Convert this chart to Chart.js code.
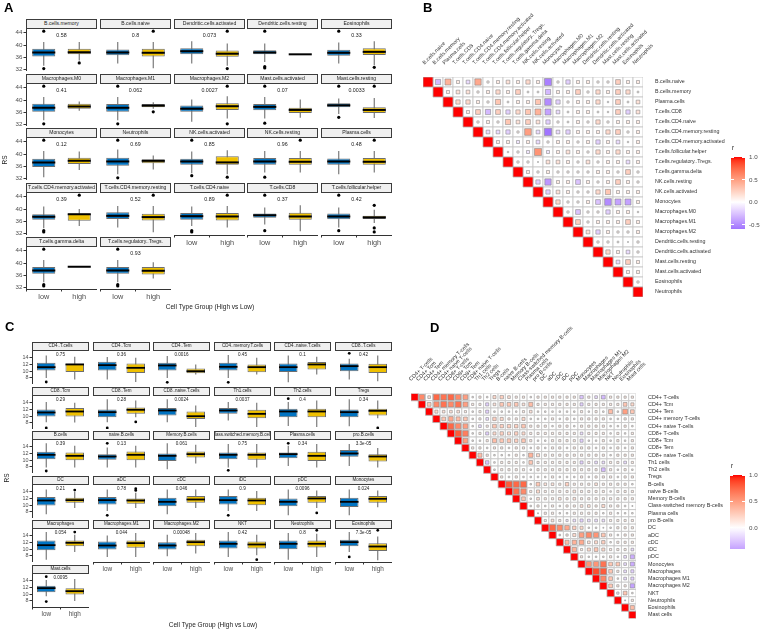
<!DOCTYPE html>
<html>
<head>
<meta charset="utf-8">
<title>Risk score by immune cell group</title>
<script src="https://cdn.jsdelivr.net/npm/chart.js@4.4.1/dist/chart.umd.min.js"></script>
<style>
  body { margin: 0; background: #fff; }
  #fig { position: relative; width: 763px; height: 631px; overflow: hidden; font-family: "Liberation Sans", Arial, sans-serif; }
  #fig canvas { position: absolute; }
  .t { position: absolute; white-space: nowrap; line-height: 1; color: #1a1a1a; }
  .tag { font-weight: bold; color: #000; }
  .mid { transform: translate(-50%, -50%); }
  .midy { transform: translateY(-50%); color: #4d4d4d; }
  .rot { transform: translate(-50%, -50%) rotate(-90deg); }
  .strip { position: absolute; box-sizing: border-box; background: #f0f0f0; border: 0.8px solid #3c3c3c;
           display: flex; justify-content: center; align-items: center; overflow: hidden; white-space: nowrap; color: #1a1a1a; line-height: 1; }
  .cbar { position: absolute; }
</style>
</head>
<body>
<div id="fig"></div>
<script>
const groups = ["low", "high"];

// ---- panel A : CIBERSORT cell types ----
const aNames = ["B.cells.memory", "B.cells.naive", "Dendritic.cells.activated", "Dendritic.cells.resting", "Eosinophils",
  "Macrophages.M0", "Macrophages.M1", "Macrophages.M2", "Mast.cells.activated", "Mast.cells.resting",
  "Monocytes", "Neutrophils", "NK.cells.activated", "NK.cells.resting", "Plasma.cells",
  "T.cells.CD4.memory.activated", "T.cells.CD4.memory.resting", "T.cells.CD4.naive", "T.cells.CD8", "T.cells.follicular.helper",
  "T.cells.gamma.delta", "T.cells.regulatory..Tregs."];
const aP = ["0.58", "0.8", "0.073", "", "0.33", "0.41", "0.062", "0.0027", "0.07", "0.0033",
  "0.12", "0.69", "0.85", "0.96", "0.48", "0.39", "0.52", "0.89", "0.37", "0.42", "", "0.93"];
// [lower whisker, q1, median, q3, upper whisker]
const aLow = [
  [33.3, 36.3, 37.6, 38.8, 41.0], [34.0, 36.7, 37.6, 38.6, 41.0], [34.0, 37.0, 38.0, 39.0, 41.2], [34.5, 37.0, 37.6, 38.3, 40.5], [34.0, 36.5, 37.5, 38.5, 40.8],
  [33.5, 36.2, 37.5, 38.8, 41.0], [33.5, 36.2, 37.5, 38.7, 41.0], [33.0, 36.2, 37.2, 38.2, 40.2], [34.0, 36.7, 37.8, 38.7, 41.0], [35.5, 37.7, 38.3, 39.0, 40.5],
  [32.5, 35.8, 37.3, 38.5, 41.0], [33.5, 36.2, 37.6, 38.8, 41.5], [33.8, 36.5, 37.6, 38.5, 40.8], [34.0, 36.5, 37.6, 38.7, 41.0], [33.5, 36.5, 37.6, 38.6, 41.0],
  [33.8, 36.5, 37.5, 38.3, 40.8], [34.0, 36.8, 37.8, 39.0, 41.0], [34.5, 36.5, 37.7, 38.7, 40.8], [35.0, 37.2, 38.0, 38.6, 40.5], [34.0, 36.7, 37.6, 38.6, 40.5],
  [33.8, 36.5, 37.6, 38.7, 41.0], [33.8, 36.5, 37.6, 38.7, 41.0]];
const aHigh = [
  [35.0, 37.0, 37.7, 38.8, 41.0], [32.5, 36.3, 37.5, 38.8, 41.0], [33.3, 36.2, 37.2, 38.2, 40.5], [37.0, 37.0, 37.0, 37.0, 37.0], [33.5, 36.8, 37.8, 39.0, 41.2],
  [36.5, 37.2, 37.9, 38.8, 39.5], [37.2, 37.7, 38.2, 38.7, 39.3], [34.0, 36.8, 38.0, 39.0, 41.2], [34.3, 35.8, 36.8, 37.5, 40.2], [34.2, 35.8, 36.8, 37.7, 40.7],
  [34.8, 36.8, 37.8, 38.8, 40.8], [35.0, 37.0, 37.8, 38.3, 39.5], [33.5, 36.5, 37.3, 39.3, 41.2], [34.0, 36.5, 37.5, 38.7, 41.0], [34.0, 36.5, 37.5, 38.7, 41.0],
  [34.5, 36.2, 38.3, 38.6, 40.0], [32.5, 36.3, 37.4, 38.5, 41.0], [34.0, 36.3, 37.6, 38.7, 41.0], [32.8, 36.5, 37.6, 38.8, 41.2], [35.5, 36.8, 37.3, 37.8, 39.8],
  [38.8, 38.8, 38.8, 38.8, 38.8], [35.0, 36.3, 37.5, 38.7, 40.3]];
const aLowOut = [[44.5, 32.4], [], [], [44.5, 33.0, 32.6], [44.5], [44.5, 32.3], [44.5, 32.3], [], [44.5, 32.5], [44.5, 34.4],
  [44.5], [44.5, 32.3], [44.5, 33.0], [32.5], [], [33.0, 32.6], [], [33.0, 32.6], [44.5, 33.0], [44.5, 33.0], [44.5, 33.0, 32.6], [44.5, 33.0, 32.6]];
const aHighOut = [[34.2], [44.5], [44.5, 32.4], [], [32.8], [], [36.2], [44.5, 32.3], [], [44.5],
  [], [], [32.5], [44.5], [44.5], [44.5], [44.5], [44.5], [], [41.2, 33.9, 32.6], [], []];
const aTicks = [32, 36, 40, 44];

// ---- panel C : xCell cell types ----
const cNames = ["CD4..T.cells", "CD4..Tcm", "CD4..Tem", "CD4..memory.T.cells", "CD4..naive.T.cells", "CD8..T.cells",
  "CD8..Tcm", "CD8..Tem", "CD8..naive.T.cells", "Th1.cells", "Th2.cells", "Tregs",
  "B.cells", "naive.B.cells", "Memory.B.cells", "Class.switched.memory.B.cells", "Plasma.cells", "pro.B.cells",
  "DC", "aDC", "cDC", "iDC", "pDC", "Monocytes",
  "Macrophages", "Macrophages.M1", "Macrophages.M2", "NKT", "Neutrophils", "Eosinophils", "Mast.cells"];
const cP = ["0.75", "0.36", "0.0016", "0.45", "0.1", "0.42", "0.29", "0.28", "0.0024", "0.0037", "0.4", "0.34",
  "0.39", "0.13", "0.061", "0.75", "0.34", "3.3e-05", "0.21", "0.78", "0.046", "0.9", "0.0096", "0.024",
  "0.054", "0.044", "0.00048", "0.42", "0.8", "7.3e-05", "0.0095"];
const cLow = [
  [8.0, 10.2, 11.2, 12.5, 14.7], [7.5, 10.2, 11.8, 12.8, 14.2], [8.0, 10.2, 11.7, 12.5, 14.5], [8.0, 10.2, 11.3, 12.5, 14.8], [6.7, 9.8, 11.2, 12.3, 14.7], [7.5, 10.0, 11.5, 12.3, 13.7],
  [8.2, 9.9, 11.1, 12.0, 14.2], [8.2, 9.7, 11.2, 12.0, 15.0], [8.2, 10.2, 11.7, 12.4, 15.0], [8.7, 10.7, 11.7, 12.4, 14.2], [7.1, 9.7, 11.4, 12.2, 14.2], [7.0, 9.7, 11.2, 12.0, 15.0],
  [7.8, 10.3, 11.6, 12.5, 15.0], [7.8, 10.1, 11.1, 11.8, 13.8], [7.3, 9.8, 11.3, 12.0, 15.0], [7.8, 10.3, 11.6, 12.3, 14.8], [8.3, 10.6, 11.8, 12.3, 14.3], [8.3, 11.0, 12.0, 13.0, 14.8],
  [7.3, 9.9, 11.4, 12.4, 14.7], [8.3, 10.2, 11.5, 12.4, 14.7], [7.3, 9.7, 11.0, 12.2, 14.7], [8.3, 10.2, 11.5, 12.7, 14.7], [7.0, 9.7, 11.0, 12.0, 14.7], [7.0, 9.5, 11.0, 12.2, 14.7],
  [6.9, 9.7, 11.2, 12.6, 15.1], [7.7, 9.9, 11.1, 12.3, 14.1], [7.9, 9.9, 11.1, 12.1, 14.3], [7.7, 10.2, 11.6, 12.6, 15.1], [6.9, 10.0, 11.6, 12.6, 14.8], [9.2, 10.9, 12.1, 12.8, 15.1],
  [9.4, 10.6, 11.8, 12.5, 14.2]];
const cHigh = [
  [7.5, 9.8, 12.0, 12.3, 14.3], [6.8, 9.5, 11.0, 12.3, 14.0], [9.0, 9.4, 10.0, 10.8, 12.0], [9.0, 9.7, 11.2, 12.0, 14.0], [9.0, 10.5, 12.0, 12.7, 14.3], [7.0, 9.5, 11.2, 12.2, 14.7],
  [8.1, 9.9, 11.4, 12.4, 14.0], [9.7, 10.7, 11.9, 12.6, 14.7], [6.8, 9.2, 10.0, 11.4, 13.2], [6.8, 9.4, 10.7, 11.9, 14.0], [6.8, 9.7, 11.4, 12.2, 14.7], [9.4, 10.2, 11.6, 12.2, 14.7],
  [7.8, 10.0, 11.3, 12.3, 14.3], [7.8, 10.0, 11.6, 12.6, 14.3], [9.0, 10.8, 11.8, 12.6, 14.6], [7.8, 10.1, 11.6, 12.3, 14.8], [7.8, 9.8, 11.3, 12.5, 14.8], [7.8, 9.6, 11.1, 11.8, 13.6],
  [9.2, 10.7, 11.5, 12.2, 13.9], [9.2, 10.4, 11.4, 12.0, 13.7], [9.2, 10.7, 11.7, 12.7, 14.7], [8.3, 10.0, 11.4, 12.2, 14.2], [9.2, 10.7, 12.0, 12.7, 14.4], [9.4, 10.7, 11.9, 12.7, 14.4],
  [9.2, 10.9, 11.9, 12.6, 14.3], [7.7, 10.4, 11.8, 12.6, 14.8], [8.7, 10.9, 12.1, 12.8, 14.8], [8.2, 10.2, 11.4, 12.3, 14.3], [7.7, 10.5, 11.6, 12.6, 14.6], [6.7, 9.5, 10.8, 11.8, 13.8],
  [8.0, 9.9, 10.9, 11.8, 14.5]];
const cLowOut = [[6.8], [], [6.7], [6.7], [], [15.3], [6.5], [6.5], [], [], [15.2], [],
  [6.8], [15.0], [], [7.0], [15.0], [], [], [7.0], [], [7.0], [], [],
  [], [], [], [], [], [7.7], [15.2, 7.8]];
const cHighOut = [[], [], [], [], [], [], [], [8.3], [], [], [], [6.5],
  [], [], [], [], [], [], [14.5], [14.9, 14.4], [], [], [7.7], [],
  [15.1], [], [], [6.9], [15.6], [15.6], []];
const cTicks = [8, 10, 12, 14];

// ---- panel B : correlation among CIBERSORT cell types (upper triangle, row i holds columns i+1..n) ----
const bNames = ["B.cells.naive", "B.cells.memory", "Plasma.cells", "T.cells.CD8", "T.cells.CD4.naive", "T.cells.CD4.memory.resting",
  "T.cells.CD4.memory.activated", "T.cells.follicular.helper", "T.cells.regulatory..Tregs.", "T.cells.gamma.delta", "NK.cells.resting",
  "NK.cells.activated", "Monocytes", "Macrophages.M0", "Macrophages.M1", "Macrophages.M2", "Dendritic.cells.resting",
  "Dendritic.cells.activated", "Mast.cells.resting", "Mast.cells.activated", "Eosinophils", "Neutrophils"];
const bCorr = [
  [-0.3, 0.4, 0.1, -0.15, 0.45, 0.05, 0.1, 0.15, 0.1, 0.2, 0.1, -0.55, 0.05, -0.2, 0.1, 0.1, 0.05, 0.05, 0.25, 0.1, 0.1],
  [0.1, 0.15, 0.15, 0.05, 0.1, 0.2, 0.1, 0.25, 0.03, 0.03, -0.3, 0.1, 0.1, 0.25, 0.05, 0.2, 0.1, 0.25, 0.2, 0.03],
  [0.2, 0.2, 0.1, 0.05, 0.3, 0.03, 0.1, 0.1, 0.3, -0.5, -0.2, 0.05, 0.1, 0.1, 0.2, -0.02, 0.25, 0.03, 0.15],
  [0.1, 0.25, -0.3, 0.25, -0.2, 0.2, 0.3, 0.4, -0.4, -0.15, 0.03, 0.1, 0.1, 0.03, 0.02, 0.25, -0.2, 0.15],
  [0.05, 0.1, 0.05, 0.3, 0.15, 0.25, 0.15, -0.2, 0.05, 0.03, 0.1, 0.05, 0.2, 0.05, 0.1, 0.1, 0.1],
  [-0.15, -0.15, -0.2, 0.05, 0.5, -0.15, -0.6, -0.15, -0.2, 0.1, 0.1, 0.1, 0.2, 0.25, 0.05, 0.1],
  [0.1, 0.1, -0.1, 0.1, -0.15, 0.05, 0.1, 0.1, 0.05, 0.1, -0.2, 0.1, -0.15, 0.02, 0.1],
  [0.02, 0.05, -0.1, 0.55, -0.1, 0.1, 0.15, 0.1, 0.05, 0.2, 0.1, 0.2, 0.1, 0.1],
  [0.05, 0.05, 0.01, 0.15, 0.15, 0.1, 0.05, 0.15, 0.05, 0.1, 0.1, -0.15, 0.1],
  [0.1, 0.05, 0.1, 0.05, 0.05, 0.05, 0.05, 0.1, 0.1, 0.05, 0.25, 0.05],
  [-0.2, -0.45, 0.1, 0.1, -0.25, 0.1, 0.05, 0.1, 0.25, 0.1, 0.05],
  [-0.2, 0.15, 0.1, 0.05, 0.05, 0.2, 0.3, 0.1, 0.1, 0.1],
  [0.2, 0.05, 0.05, 0.1, -0.25, -0.5, -0.4, -0.4, 0.1],
  [0.05, -0.25, 0.05, 0.05, -0.2, 0.1, 0.1, 0.02],
  [0.25, 0.05, 0.1, 0.1, 0.1, 0.25, 0.1],
  [0.15, -0.2, 0.1, 0.05, 0.05, 0.1],
  [0.05, 0.05, 0.03, -0.01, 0.05],
  [0.2, 0.1, -0.15, 0.05],
  [-0.15, 0.25, 0.1],
  [0.1, 0.1],
  [0.05]];
const bLegendTicks = [1.0, 0.5, 0.0, -0.5];

// ---- panel D : correlation among xCell cell types ----
const dNames = ["CD4+ T-cells", "CD4+ Tcm", "CD4+ Tem", "CD4+ memory T-cells", "CD4+ naive T-cells", "CD8+ T-cells", "CD8+ Tcm",
  "CD8+ Tem", "CD8+ naive T-cells", "Th1 cells", "Th2 cells", "Tregs", "B-cells", "naive B-cells", "Memory B-cells",
  "Class-switched memory B-cells", "Plasma cells", "pro B-cells", "DC", "aDC", "cDC", "iDC", "pDC", "Monocytes",
  "Macrophages", "Macrophages M1", "Macrophages M2", "NKT", "Neutrophils", "Eosinophils", "Mast cells"];
const dCorr = [
  [0.6, 0.15, 0.75, 0.7, 0.75, 0.6, 0.5, 0.05, 0.1, 0.05, 0.2, 0.25, 0.15, 0.1, 0.1, 0.05, 0.1, 0.1, 0.1, 0.1, 0.1, 0.1, -0.25, 0.1, -0.15, -0.3, 0.1, 0.1, 0.1, 0.1],
  [0.3, 0.6, 0.7, 0.6, 0.7, 0.5, 0.1, 0.1, -0.2, 0.15, 0.3, 0.3, 0.3, 0.15, 0.35, 0.1, 0.1, 0.1, 0.1, 0.1, 0.1, -0.2, 0.1, 0.1, 0.1, 0.1, 0.1, 0.3, 0.2],
  [0.2, 0.15, 0.15, 0.15, 0.1, 0.05, 0.1, -0.2, 0.05, 0.05, 0.05, 0.05, 0.1, 0.15, 0.05, 0.05, 0.05, 0.05, 0.05, 0.05, 0.1, 0.05, 0.1, 0.05, 0.35, 0.05, 0.5, 0.3],
  [0.3, 0.45, 0.35, 0.3, 0.05, 0.1, -0.15, 0.25, 0.2, 0.1, 0.1, 0.2, 0.05, 0.05, 0.05, 0.1, 0.05, 0.1, 0.05, 0.1, 0.1, 0.1, 0.1, 0.05, 0.05, 0.1, 0.1],
  [0.75, 0.6, 0.5, 0.05, -0.15, 0.1, 0.3, 0.25, 0.25, 0.25, 0.3, 0.1, 0.1, 0.1, 0.05, 0.1, 0.1, 0.05, 0.1, 0.1, 0.1, 0.1, 0.05, 0.05, 0.1, 0.05],
  [0.8, 0.65, 0.05, 0.1, -0.2, 0.2, 0.25, 0.2, 0.25, 0.2, 0.1, 0.1, 0.1, 0.1, 0.1, 0.1, 0.1, -0.15, 0.1, 0.1, 0.1, 0.05, 0.1, 0.05, 0.1],
  [0.5, 0.05, 0.05, 0.1, 0.35, 0.3, 0.3, 0.25, 0.3, 0.1, 0.05, 0.05, 0.1, 0.1, 0.1, 0.1, -0.2, 0.05, 0.05, 0.1, 0.05, 0.1, 0.05, 0.1],
  [0.1, 0.1, 0.05, 0.1, 0.1, 0.05, 0.1, 0.1, 0.05, 0.1, 0.05, 0.1, 0.1, 0.05, 0.1, 0.1, 0.1, 0.05, 0.1, 0.05, 0.1, 0.05, 0.1],
  [0.35, 0.1, 0.05, 0.05, 0.05, 0.1, -0.05, 0.4, 0.2, 0.1, 0.1, 0.1, 0.1, 0.1, 0.1, 0.1, 0.1, 0.1, 0.05, 0.1, 0.1, 0.1],
  [-0.25, 0.05, 0.1, 0.1, 0.1, 0.05, 0.3, 0.1, 0.1, 0.1, 0.1, 0.1, 0.1, -0.2, 0.1, -0.15, -0.15, 0.1, 0.1, -0.15, 0.1],
  [0.05, 0.1, 0.1, 0.1, 0.1, 0.05, 0.1, 0.1, 0.1, 0.1, 0.1, 0.1, 0.1, 0.1, 0.1, -0.3, 0.1, 0.05, 0.1, 0.05],
  [0.1, 0.05, 0.1, 0.05, 0.05, 0.05, 0.05, 0.1, 0.05, 0.05, 0.05, 0.1, 0.05, 0.1, 0.1, 0.1, 0.05, 0.1, 0.1],
  [0.8, 0.75, 0.75, 0.05, 0.3, 0.15, 0.15, 0.1, 0.25, 0.1, 0.1, 0.1, 0.15, 0.1, 0.1, 0.1, 0.1, 0.05],
  [0.7, 0.6, 0.1, 0.2, 0.1, 0.1, 0.1, 0.1, 0.15, 0.1, 0.1, 0.1, 0.1, 0.05, 0.1, 0.1, 0.1],
  [0.3, 0.05, 0.15, 0.1, 0.1, 0.15, 0.1, 0.15, 0.1, 0.1, 0.1, 0.1, 0.1, 0.1, 0.1, 0.1],
  [0.05, 0.1, 0.05, 0.1, 0.05, 0.1, 0.1, 0.15, 0.15, 0.1, 0.2, 0.1, 0.1, 0.05, 0.02],
  [0.02, 0.1, 0.1, 0.05, 0.05, 0.1, 0.1, 0.1, 0.1, 0.05, 0.1, 0.05, 0.05, 0.05],
  [0.1, 0.15, 0.1, -0.1, -0.15, -0.2, -0.15, -0.15, -0.15, 0.1, 0.1, 0.1, 0.1],
  [0.75, 0.6, 0.45, 0.25, 0.2, 0.05, 0.05, 0.02, 0.05, 0.1, 0.1, 0.1],
  [0.05, 0.1, 0.2, 0.5, 0.6, 0.55, 0.3, 0.1, 0.05, 0.1, 0.1],
  [0.35, 0.4, 0.45, 0.15, 0.2, 0.25, 0.05, 0.1, 0.1, 0.1],
  [0.4, 0.1, 0.2, 0.3, 0.2, 0.1, 0.1, 0.1, -0.15],
  [0.1, 0.05, 0.05, 0.05, 0.1, 0.05, -0.15, -0.35],
  [0.55, 0.55, 0.7, 0.3, 0.3, -0.15, -0.35],
  [0.85, 0.8, 0.3, 0.1, -0.15, -0.2],
  [0.6, 0.3, 0.05, -0.15, -0.2],
  [0.3, 0.1, 0.1, -0.4],
  [-0.1, 0.3, 0.05],
  [0.02, 0.1],
  [0.35]];
const dLegendTicks = [1.0, 0.5, 0.0];

Chart.defaults.font.family = '"Liberation Sans", Arial, sans-serif';
Chart.defaults.animation = false;
Chart.defaults.responsive = false;
Chart.defaults.plugins.legend.display = false;
Chart.defaults.plugins.tooltip.enabled = false;

const BLUE = "#0073C2", GOLD = "#EFC000", EDGE = "#6e6e6e", AXIS = "#333333", TICK = "#4d4d4d";
const fig = document.getElementById("fig");

function text(str, x, y, size, cls) {
  const d = document.createElement("div");
  d.className = "t " + (cls || "");
  d.textContent = str;
  d.style.left = x + "px";
  d.style.top = y + "px";
  d.style.fontSize = size + "px";
  fig.appendChild(d);
  return d;
}

function canvasAt(x, y, w, h) {
  const c = document.createElement("canvas");
  c.width = w; c.height = h;
  c.style.left = x + "px"; c.style.top = y + "px";
  fig.appendChild(c);
  return c;
}

// colour scale like scale_fill_gradient2(blue, white, red) interpolated in Lab
function toLab(hex) {
  const v = [1, 3, 5].map(i => parseInt(hex.substr(i, 2), 16) / 255)
    .map(c => c <= 0.04045 ? c / 12.92 : Math.pow((c + 0.055) / 1.055, 2.4));
  const X = (0.4124564 * v[0] + 0.3575761 * v[1] + 0.1804375 * v[2]) / 0.95047;
  const Y = 0.2126729 * v[0] + 0.7151522 * v[1] + 0.0721750 * v[2];
  const Z = (0.0193339 * v[0] + 0.1191920 * v[1] + 0.9503041 * v[2]) / 1.08883;
  const f = t => t > 216 / 24389 ? Math.cbrt(t) : (24389 / 27 * t + 16) / 116;
  return [116 * f(Y) - 16, 500 * (f(X) - f(Y)), 200 * (f(Y) - f(Z))];
}
function fromLab(L, a, b) {
  const fy = (L + 16) / 116, fx = fy + a / 500, fz = fy - b / 200;
  const inv = t => t * t * t > 216 / 24389 ? t * t * t : (116 * t - 16) / (24389 / 27);
  const X = inv(fx) * 0.95047, Y = inv(fy), Z = inv(fz) * 1.08883;
  const lin = [3.2404542 * X - 1.5371385 * Y - 0.4985314 * Z,
               -0.9692660 * X + 1.8760108 * Y + 0.0415560 * Z,
               0.0556434 * X - 0.2040259 * Y + 1.0572252 * Z];
  const enc = c => { c = c <= 0.0031308 ? 12.92 * c : 1.055 * Math.pow(c, 1 / 2.4) - 0.055; return Math.round(Math.min(1, Math.max(0, c)) * 255); };
  return "rgb(" + lin.map(enc).join(",") + ")";
}
const labWhite = toLab("#FFFFFF"), labRed = toLab("#FF0000"), labBlue = toLab("#0000FF");
function corrColor(r) {
  const end = r >= 0 ? labRed : labBlue, t = Math.min(1, Math.abs(r));
  return fromLab(...labWhite.map((w, k) => w + (end[k] - w) * t));
}

// ---------- boxplot facets ----------
function boxChart(P, x, y, lo, hi, loOut, hiOut, showY, showX) {
  const left = showY ? P.yw : 0, bottom = showX ? P.xh : 0;
  const c = canvasAt(x - left, y, P.w + left, P.ph + bottom);
  const halfBox = ch => ch.scales.x.width / 2 * P.bp / 2;
  const dots = loOut.map(v => ({ x: "low", y: v })).concat(hiOut.map(v => ({ x: "high", y: v })));
  new Chart(c, {
    type: "bar",
    data: {
      labels: groups,
      datasets: [
        { type: "line", data: [{ x: "low", y: lo[0] }, { x: "low", y: lo[4] }], borderColor: EDGE, borderWidth: 1.1, pointRadius: 0, order: 4 },
        { type: "line", data: [{ x: "high", y: hi[0] }, { x: "high", y: hi[4] }], borderColor: EDGE, borderWidth: 1.1, pointRadius: 0, order: 4 },
        { data: [[lo[1], lo[3]], [hi[1], hi[3]]], backgroundColor: [BLUE, GOLD], borderColor: EDGE, borderWidth: 1,
          borderSkipped: false, barPercentage: P.bp, categoryPercentage: 1, order: 3 },
        { type: "line", data: [lo[2], hi[2]], showLine: false, pointStyle: "line", pointRadius: ctx => halfBox(ctx.chart),
          borderColor: "#000", pointBorderColor: "#000", pointBorderWidth: P.med, order: 2 },
        { type: "line", data: dots, showLine: false, pointRadius: P.dot, pointBackgroundColor: "#000",
          pointBorderWidth: 0, order: 1 }
      ]
    },
    options: {
      layout: { padding: 0, autoPadding: false },
      scales: {
        x: {
          display: showX, offset: true,
          grid: { display: true, drawOnChartArea: false, tickLength: 2.5, color: AXIS },
          border: { display: true, color: AXIS, width: 1 },
          ticks: { font: { size: P.xFont }, color: TICK, padding: 1, maxRotation: 0 },
          afterFit: s => { if (showX) s.height = P.xh; s.paddingLeft = 0; s.paddingRight = 0; }
        },
        y: {
          display: showY, min: P.yMin, max: P.yMax,
          afterBuildTicks: s => { s.ticks = P.ticks.map(v => ({ value: v })); },
          grid: { display: true, drawOnChartArea: false, tickLength: 2.5, color: AXIS },
          border: { display: true, color: AXIS, width: 1 },
          ticks: { font: { size: P.tickFont }, color: TICK, padding: 1, autoSkip: false },
          afterFit: s => { if (showY) s.width = P.yw; s.paddingTop = 0; s.paddingBottom = 0; }
        }
      }
    }
  });
}

function facetPanel(P, names, pv, lo, hi, loOut, hiOut) {
  names.forEach((name, i) => {
    const col = i % P.ncol, row = Math.floor(i / P.ncol);
    const x = Math.round(P.x0 + P.dx * col), y = Math.round(P.y0 + P.dy * row);
    const s = document.createElement("div");
    s.className = "strip";
    s.style.left = x + "px"; s.style.top = y + "px";
    s.style.width = P.w + "px"; s.style.height = P.sh + "px";
    s.style.fontSize = P.stripFont + "px";
    s.textContent = name;
    fig.appendChild(s);
    boxChart(P, x, y + P.sh, lo[i], hi[i], loOut[i], hiOut[i], col === 0, i + P.ncol >= names.length);
    if (pv[i]) text(pv[i], x + P.w / 2, y + P.sh + P.pDy, P.pFont, "mid");
  });
}

const panelA = { x0: 26, dx: 73.75, w: 71, y0: 19, dy: 54.5, sh: 10, ph: 42, ncol: 5, yMin: 31.6, yMax: 45.2, ticks: aTicks,
  yw: 22, xh: 14, bp: 0.65, med: 2, dot: 1.6, stripFont: 5.1, pFont: 5.3, pDy: 7, tickFont: 6.2, xFont: 7.3 };
const panelC = { x0: 32, dx: 60.6, w: 57, y0: 342, dy: 44.5, sh: 8.5, ph: 33.5, ncol: 6, yMin: 6.2, yMax: 16, ticks: cTicks,
  yw: 20, xh: 13, bp: 0.65, med: 1.8, dot: 1.4, stripFont: 4.5, pFont: 4.6, pDy: 4.5, tickFont: 5.4, xFont: 6.4 };

facetPanel(panelA, aNames, aP, aLow, aHigh, aLowOut, aHighOut);
facetPanel(panelC, cNames, cP, cLow, cHigh, cLowOut, cHighOut);

text("Cell Type Group (High vs Low)", 210, 307, 6.5, "mid");
text("Cell Type Group (High vs Low)", 213, 625, 6.5, "mid");
text("RS", 5, 160, 6.5, "rot");
text("RS", 7, 478, 6.5, "rot");

// ---------- correlation heatmaps ----------
function corrPanel(names, corr, box) {
  const n = names.length;
  const tiles = [], diag = [], cells = [];
  names.forEach((_, i) => {
    diag.push({ x: i + 1, y: i + 1 });
    (corr[i] || []).forEach((v, k) => {
      tiles.push({ x: i + k + 2, y: i + 1 });
      cells.push({ x: i + k + 2, y: i + 1, v: v });
    });
  });
  const cellPx = ch => ch.scales.x.getPixelForValue(1) - ch.scales.x.getPixelForValue(0);
  const c = canvasAt(box.left, box.top, box.w, box.h);
  const axisFont = { size: box.font };
  new Chart(c, {
    type: "scatter",
    data: {
      datasets: [
        { data: tiles, pointStyle: "rect", pointRadius: ctx => cellPx(ctx.chart) / Math.SQRT2,
          backgroundColor: "#ffffff", borderColor: "#c4c4c4", borderWidth: 0.8, order: 3 },
        { data: diag, pointStyle: "rect", pointRadius: ctx => cellPx(ctx.chart) / Math.SQRT2,
          backgroundColor: corrColor(1), borderColor: "#b0b0b0", borderWidth: 0.8, order: 2 },
        { data: cells, pointStyle: "rect",
          pointRadius: ctx => cellPx(ctx.chart) * 0.95 * Math.sqrt(Math.abs(ctx.raw.v)) / Math.SQRT2,
          backgroundColor: ctx => corrColor(ctx.raw.v), borderColor: "#8a8a8a", borderWidth: 0.6, order: 1 }
      ]
    },
    options: {
      layout: { padding: { left: box.padL, bottom: box.padB, top: 0, right: 0 }, autoPadding: false },
      scales: {
        x: {
          type: "linear", position: "top", min: 0.5, max: n + 0.5,
          afterBuildTicks: s => { s.ticks = names.map((_, i) => ({ value: i + 1 })); },
          ticks: { autoSkip: false, minRotation: 45, maxRotation: 45, padding: 3, font: axisFont, color: AXIS,
                   callback: v => names[v - 1] },
          grid: { display: false }, border: { display: false },
          afterFit: s => { s.height = box.axisH; s.paddingLeft = 0; s.paddingRight = 0; }
        },
        y: {
          type: "linear", position: "right", reverse: true, min: 0.5, max: n + 0.5,
          afterBuildTicks: s => { s.ticks = names.map((_, i) => ({ value: i + 1 })); },
          ticks: { autoSkip: false, padding: 4, font: axisFont, color: AXIS, callback: v => names[v - 1] },
          grid: { display: false }, border: { display: false },
          afterFit: s => { s.width = box.axisW; s.paddingTop = 0; s.paddingBottom = 0; }
        }
      }
    }
  });
}

function colorbar(x, y, w, h, vmin, ticks) {
  const vmax = 1;
  const stops = [];
  for (let k = 0; k <= 24; k++) {
    const v = vmax - (vmax - vmin) * k / 24;
    stops.push(corrColor(v) + " " + (k * 100 / 24).toFixed(2) + "%");
  }
  const d = document.createElement("div");
  d.className = "cbar";
  d.style.left = x + "px"; d.style.top = y + "px";
  d.style.width = w + "px"; d.style.height = h + "px";
  d.style.background = "linear-gradient(to bottom, " + stops.join(", ") + ")";
  fig.appendChild(d);
  ticks.forEach(v => {
    const ty = y + (vmax - v) / (vmax - vmin) * h;
    text(v.toFixed(1), x + w + 4, ty, 6.2, "midy");
    [x, x + w - 3].forEach(tx => {
      const m = document.createElement("div");
      m.className = "cbar";
      m.style.left = tx + "px"; m.style.top = (ty - 0.5) + "px";
      m.style.width = "3px"; m.style.height = "1px"; m.style.background = "#fff";
      fig.appendChild(m);
    });
  });
  text("r", x + 1, y - 12, 6.4);
}

const minOf = m => Math.min(...m.map(r => Math.min(...r)));

corrPanel(bNames, bCorr, { left: 418, top: 0, w: 345, h: 300, padL: 5, padB: 3, axisH: 77, axisW: 120, font: 5.3 });
corrPanel(dNames, dCorr, { left: 406, top: 318, w: 357, h: 303, padL: 5, padB: 2.5, axisH: 75.5, axisW: 127, font: 5.4 });
colorbar(731, 157, 14, 72, minOf(bCorr), bLegendTicks);
colorbar(730, 475, 15, 74, minOf(dCorr), dLegendTicks);

text("A", 4, 1, 13, "tag");
text("B", 423, 1, 13, "tag");
text("C", 5, 320, 13, "tag");
text("D", 430, 321, 13, "tag");
</script>
</body>
</html>
